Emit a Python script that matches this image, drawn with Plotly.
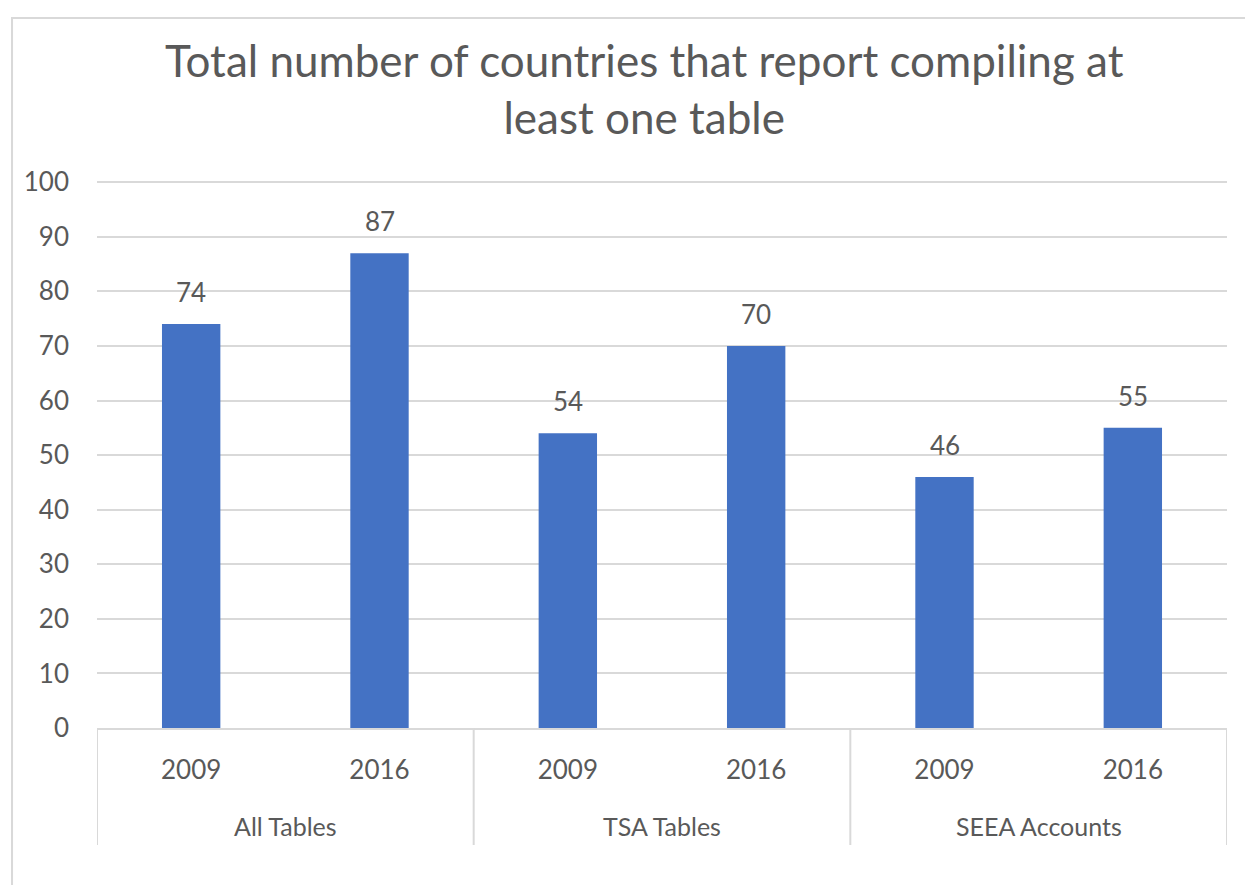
import plotly.graph_objects as go

groups = ["All Tables", "TSA Tables", "SEEA Accounts"]
years = ["2009", "2016"]
values = [74, 87, 54, 70, 46, 55]

TEXT = "#595959"
GRID = "#D9D9D9"
FONT = "Lato, 'Open Sans', sans-serif"

# one category per (group, year) pair, shown with year as tick text
cats = [f"{g} {y}" for g in groups for y in years]
tick_text = [y for g in groups for y in years]

fig = go.Figure(go.Bar(
    x=cats, y=values,
    marker=dict(color="#4472C4", line=dict(width=0)),
    width=0.31,
))

# data labels above the bars
for c, v in zip(cats, values):
    fig.add_annotation(x=c, y=v, text=str(v), showarrow=False,
                       yanchor="bottom", yshift=14,
                       font=dict(size=26, color=TEXT, family=FONT))

# group labels and dividers below the axis
n_years = len(years)
for i, g in enumerate(groups):
    fig.add_annotation(x=i * n_years + (n_years - 1) / 2, y=-0.179,
                       xref="x", yref="paper", text=g, showarrow=False,
                       yanchor="middle",
                       font=dict(size=25, color=TEXT, family=FONT))
for i in range(len(groups) + 1):
    xb = i * n_years - 0.5
    fig.add_shape(type="line", xref="x", yref="paper",
                  x0=xb, x1=xb, y0=0, y1=-0.2135,
                  line=dict(color=GRID, width=2))

fig.update_layout(
    width=1245, height=877,
    paper_bgcolor="white", plot_bgcolor="white",
    margin=dict(l=89, r=26, t=172, b=157),
    font=dict(family=FONT, color=TEXT),
    title=dict(
        text="Total number of countries that report compiling at<br>least one table",
        x=0.511, xanchor="center", y=0.921, yanchor="top",
        font=dict(size=44, color=TEXT, family=FONT),
    ),
    showlegend=False,
)
fig.update_yaxes(
    range=[0, 100.4], tickvals=list(range(0, 101, 10)),
    showgrid=True, gridcolor=GRID, gridwidth=2,
    zeroline=False, showline=False, ticks="",
    tickfont=dict(size=26, color=TEXT), ticklabelstandoff=27,
)
fig.update_xaxes(
    type="category", range=[-0.5, len(cats) - 0.5],
    tickvals=cats, ticktext=tick_text,
    showline=True, linecolor=GRID, linewidth=2, ticks="",
    tickfont=dict(size=26, color=TEXT), ticklabelstandoff=18,
)
# chart frame (Excel-style outer border)
fig.add_shape(type="rect", xref="paper", yref="paper",
              x0=-0.0752, y0=-0.6, x1=1.2, y1=1.2956,
              line=dict(color=GRID, width=2), layer="below")

fig.write_html("out.html")
